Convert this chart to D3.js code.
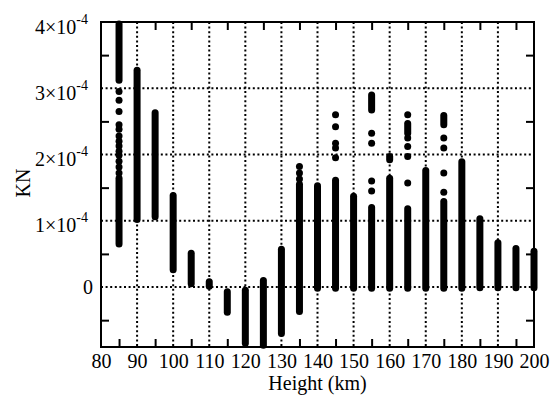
<!DOCTYPE html>
<html>
<head>
<meta charset="utf-8">
<script src="https://cdn.jsdelivr.net/npm/d3@7"></script>
<style>
  html, body { margin: 0; padding: 0; background: #fff; }
  svg { display: block; }
  text { font-family: "Liberation Serif", "Times New Roman", serif; fill: #000; }
</style>
</head>
<body>
<svg id="chart" width="558" height="408"></svg>
<script>
// ---- data (KN values in units of 1e-4) ----
const heights  = [85, 90, 95, 100, 105, 110, 115, 120, 125, 130, 135, 140, 145, 150, 155, 160, 165, 170, 175, 180, 185, 190, 195, 200];
// dense runs of points per height: lower and upper end
const denseMin = [0.65, 1.02, 1.06, 0.26, 0.05, 0.01, -0.38, -0.85, -0.88, -0.70, -0.37, -0.02, -0.02, -0.02, -0.02, -0.02, -0.02, -0.02, -0.02, -0.02, -0.01, -0.01, -0.01, -0.01];
const denseMax = [1.64, 3.27, 2.63, 1.38, 0.51, 0.08, -0.07, -0.05, 0.10, 0.57, 1.55, 1.53, 1.61, 1.37, 1.20, 1.64, 1.18, 1.76, 1.29, 1.89, 1.03, 0.67, 0.58, 0.54];
// short extra runs of points: [height, low, high]
const extraRuns = [[85, 3.12, 3.97], [155, 2.67, 2.90], [160, 1.92, 1.97], [165, 2.32, 2.47], [175, 2.45, 2.59]];
// isolated points: [height, value]
const points = [
  [85, 2.95], [85, 2.82], [85, 2.65], [85, 2.45], [85, 2.38], [85, 2.28], [85, 2.20], [85, 2.13], [85, 2.05], [85, 1.99], [85, 1.90], [85, 1.81], [85, 1.72],
  [135, 1.82], [135, 1.72], [135, 1.63],
  [145, 2.60], [145, 2.42], [145, 2.17], [145, 2.10], [145, 1.95],
  [155, 2.32], [155, 2.17], [155, 1.60], [155, 1.45],
  [165, 2.60], [165, 2.25], [165, 2.12], [165, 1.97], [165, 1.57],
  [175, 2.25], [175, 2.10], [175, 1.72], [175, 1.43]
];
const xTicks = [80, 90, 100, 110, 120, 130, 140, 150, 160, 170, 180, 190, 200];
const xMinorTicks = [85, 95, 105, 115, 125, 135, 145, 155, 165, 175, 185, 195];
const xGrid = [90, 100, 110, 120, 130, 140, 150, 160, 170, 180, 190];
const yTicks = [0, 1, 2, 3, 4];
const yTickExp = ["", "-4", "-4", "-4", "-4"];
const yMinorTicks = [-0.5, 0.5, 1.5, 2.5, 3.5];
const yGrid = [0, 1, 2, 3];
const xTitle = "Height (km)";
const yTitle = "KN";

// ---- layout ----
const L = 101, R = 534, T = 22, B = 347;
const svg = d3.select("#chart");
const x = d3.scaleLinear().domain([80, 200]).range([L, R]);
const y = d3.scaleLinear().domain([-0.905, 4]).range([B, T]);

// grid
const grid = svg.append("g").attr("stroke", "#000").attr("stroke-width", 2).attr("stroke-dasharray", "2,2.6");
grid.selectAll("line.gx").data(xGrid).join("line")
  .attr("x1", d => x(d)).attr("x2", d => x(d)).attr("y1", T).attr("y2", B);
grid.selectAll("line.gy").data(yGrid).join("line")
  .attr("y1", d => y(d)).attr("y2", d => y(d)).attr("x1", L).attr("x2", R);

// marks
const marks = svg.append("g");
const runs = heights.map((h, i) => [h, denseMin[i], denseMax[i]]).concat(extraRuns);
marks.selectAll("line.run").data(runs).join("line")
  .attr("x1", d => x(d[0])).attr("x2", d => x(d[0]))
  .attr("y1", d => y(d[1])).attr("y2", d => y(d[2]))
  .attr("stroke", "#000").attr("stroke-width", 7).attr("stroke-linecap", "round");
marks.selectAll("circle").data(points).join("circle")
  .attr("cx", d => x(d[0])).attr("cy", d => y(d[1])).attr("r", 3.5).attr("fill", "#000");

// border
svg.append("rect").attr("x", L).attr("y", T).attr("width", R - L).attr("height", B - T)
  .attr("fill", "none").attr("stroke", "#000").attr("stroke-width", 2);

// minor ticks on all sides (inward)
function styleTicks(g) {
  g.select(".domain").remove();
  g.selectAll(".tick line").attr("stroke", "#000").attr("stroke-width", 2);
  g.selectAll(".tick text").remove();
}
svg.append("g").attr("transform", `translate(0,${B})`)
  .call(d3.axisTop(x).tickValues(xMinorTicks).tickSize(8).tickFormat("")).call(styleTicks);
svg.append("g").attr("transform", `translate(0,${T})`)
  .call(d3.axisBottom(x).tickValues(xMinorTicks).tickSize(8).tickFormat("")).call(styleTicks);
svg.append("g").attr("transform", `translate(${L},0)`)
  .call(d3.axisRight(y).tickValues(yMinorTicks).tickSize(8).tickFormat("")).call(styleTicks);
svg.append("g").attr("transform", `translate(${R},0)`)
  .call(d3.axisLeft(y).tickValues(yMinorTicks).tickSize(8).tickFormat("")).call(styleTicks);

// x tick labels
const xAx = svg.append("g").attr("transform", `translate(0,${B})`)
  .call(d3.axisBottom(x).tickValues(xTicks).tickSize(0).tickPadding(0).tickFormat(d3.format("d")));
xAx.select(".domain").remove();
xAx.selectAll(".tick text").attr("font-size", 20).attr("dy", null).attr("y", 21)
  .style("font-family", '"Liberation Serif", "Times New Roman", serif');

// y tick labels
const yl = svg.append("g");
yTicks.forEach((v, i) => {
  if (yTickExp[i] === "") {
    yl.append("text").attr("x", 93).attr("y", y(v) + 7).attr("text-anchor", "end")
      .attr("font-size", 20).text(d3.format("d")(v));
  } else {
    const t = yl.append("text").attr("x", 88).attr("y", y(v) + 11.5).attr("text-anchor", "end").attr("font-size", 20);
    t.append("tspan").text(v + "\u00d710");
    t.append("tspan").attr("dy", -10).attr("font-size", 14).text(yTickExp[i]);
  }
});

// titles
svg.append("text").attr("x", (L + R) / 2).attr("y", 390).attr("text-anchor", "middle")
  .attr("font-size", 20).text(xTitle);
svg.append("text").attr("transform", `translate(30,${183}) rotate(-90)`).attr("text-anchor", "middle")
  .attr("font-size", 20).text(yTitle);
</script>
</body>
</html>
